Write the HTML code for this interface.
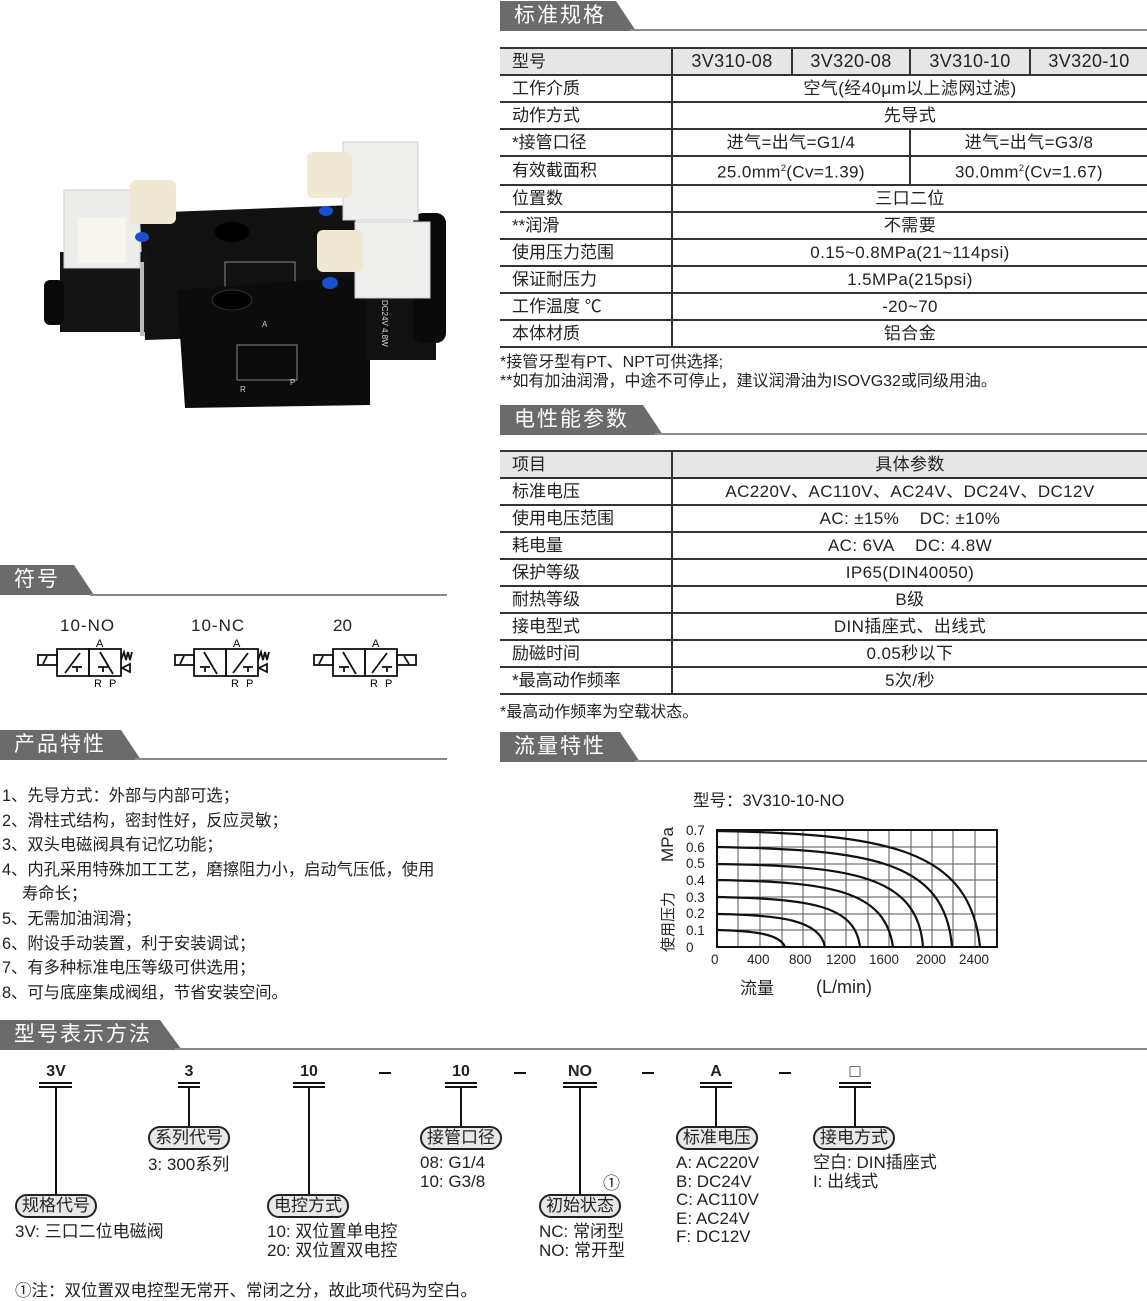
<!DOCTYPE html>
<html><head><meta charset="utf-8">
<style>
*{margin:0;padding:0;box-sizing:border-box}
body{width:1147px;height:1299px;background:#fff;position:relative;overflow:hidden;font-family:"Liberation Sans","Noto Sans CJK SC",sans-serif;color:#222}
.a{position:absolute;white-space:nowrap}
.tab{position:absolute;background:#6b6b6b;color:#fff;font-size:21px;letter-spacing:2px;padding-left:14px;line-height:30px;height:30px}
.hl{position:absolute;height:2px;background:#8a8a8a}
table{position:absolute;border-collapse:collapse;font-size:17px;table-layout:fixed}
td{border-top:2px solid #333;border-bottom:2px solid #333;height:27px;padding:0;text-align:center;line-height:23px;white-space:nowrap;letter-spacing:0.4px}
td.l{text-align:left;padding-left:12px;border-right:2px solid #333;letter-spacing:0}
td.v{border-left:2px solid #333}
tr.h td{background:#e6e6e6}
.fe{position:absolute;left:2px;font-size:16.3px;white-space:nowrap}
.code{position:absolute;font-weight:bold;font-size:16px;text-align:center;width:40px}
.bub{position:absolute;border:2px solid #222;border-radius:12px;background:#e8e8e8;font-size:17px;line-height:20px;padding:0 5px;white-space:nowrap}
.t{position:absolute;font-size:17px;line-height:18.5px;white-space:nowrap}
</style></head><body>

<!-- Photo -->
<svg class="a" style="left:0;top:0" width="470" height="420">
 <polygon points="140,213 355,205 360,333 145,340" fill="#111"/>
 <ellipse cx="232" cy="232" rx="17" ry="10" fill="#000"/>
 <rect x="60" y="252" width="88" height="80" fill="#141414"/>
 <rect x="44" y="280" width="20" height="45" rx="6" fill="#0a0a0a"/>
 <rect x="140" y="262" width="4" height="74" fill="#bbb"/>
 <rect x="225" y="262" width="70" height="28" fill="none" stroke="#888" stroke-width="1"/>
 <rect x="64" y="190" width="76" height="78" fill="#ededeb" stroke="#cfcfcf"/>
 <rect x="78" y="218" width="48" height="45" fill="#f7f5ee"/>
 <rect x="130" y="180" width="46" height="44" rx="6" fill="#efe8d2"/>
 <ellipse cx="142" cy="237" rx="7" ry="5" fill="#1a4fd0"/>
 <polygon points="177,290 340,278 370,282 370,405 185,408" fill="#0c0c0c"/>
 <ellipse cx="232" cy="300" rx="20" ry="10" fill="#000" stroke="#333"/>
 <rect x="237" y="345" width="60" height="35" fill="none" stroke="#888"/>
 <text x="262" y="327" font-size="8" fill="#ccc">A</text>
 <text x="240" y="392" font-size="8" fill="#ccc">R</text>
 <text x="290" y="385" font-size="8" fill="#ccc">P</text>
 <ellipse cx="330" cy="283" rx="8" ry="6" fill="#1a4fd0"/>
 <ellipse cx="326" cy="211" rx="7" ry="5" fill="#1a4fd0"/>
 <rect x="366" y="290" width="70" height="70" fill="#111"/>
 <rect x="413" y="213" width="33" height="130" rx="10" fill="#0a0a0a"/>
 <text x="0" y="0" font-size="8" fill="#ddd" transform="translate(382,300) rotate(90)">DC24V 4.8W</text>
 <rect x="343" y="142" width="75" height="78" fill="#efefed" stroke="#d0d0d0"/>
 <rect x="355" y="222" width="75" height="76" fill="#efefed" stroke="#d0d0d0"/>
 <rect x="307" y="152" width="45" height="46" rx="6" fill="#efe8d2"/>
 <rect x="317" y="230" width="46" height="42" rx="6" fill="#efe8d2"/>
</svg>

<!-- Section headers -->
<div class="tab" style="left:500px;top:1px;width:136px;clip-path:polygon(0 0,116px 0,136px 100%,0 100%)">标准规格</div>
<div class="hl" style="left:630px;top:29px;width:517px"></div>
<div class="tab" style="left:500px;top:405px;width:163px;clip-path:polygon(0 0,143px 0,163px 100%,0 100%)">电性能参数</div>
<div class="hl" style="left:655px;top:433px;width:492px"></div>
<div class="tab" style="left:500px;top:732px;width:140px;clip-path:polygon(0 0,120px 0,140px 100%,0 100%)">流量特性</div>
<div class="hl" style="left:635px;top:760px;width:512px"></div>
<div class="tab" style="left:0;top:565px;width:94px;clip-path:polygon(0 0,74px 0,94px 100%,0 100%)">符号</div>
<div class="hl" style="left:90px;top:594px;width:357px"></div>
<div class="tab" style="left:0;top:730px;width:141px;clip-path:polygon(0 0,121px 0,141px 100%,0 100%)">产品特性</div>
<div class="hl" style="left:135px;top:758px;width:312px"></div>
<div class="tab" style="left:0;top:1020px;width:182px;clip-path:polygon(0 0,160px 0,182px 100%,0 100%)">型号表示方法</div>
<div class="hl" style="left:175px;top:1048px;width:972px"></div>

<!-- Spec table -->
<table style="left:500px;top:47px;width:647px">
<colgroup><col style="width:172px"><col style="width:120px"><col style="width:118px"><col style="width:120px"><col style="width:117px"></colgroup>
<tr class="h"><td class="l">型号</td><td style="font-size:18px">3V310-08</td><td class="v" style="font-size:18px">3V320-08</td><td class="v" style="font-size:18px">3V310-10</td><td class="v" style="font-size:18px">3V320-10</td></tr>
<tr><td class="l">工作介质</td><td colspan="4">空气(经40μm以上滤网过滤)</td></tr>
<tr><td class="l">动作方式</td><td colspan="4">先导式</td></tr>
<tr><td class="l">*接管口径</td><td colspan="2">进气=出气=G1/4</td><td colspan="2" class="v">进气=出气=G3/8</td></tr>
<tr><td class="l">有效截面积</td><td colspan="2">25.0mm<sup style="font-size:9px">2</sup>(Cv=1.39)</td><td colspan="2" class="v">30.0mm<sup style="font-size:9px">2</sup>(Cv=1.67)</td></tr>
<tr><td class="l">位置数</td><td colspan="4">三口二位</td></tr>
<tr><td class="l">**润滑</td><td colspan="4">不需要</td></tr>
<tr><td class="l">使用压力范围</td><td colspan="4">0.15~0.8MPa(21~114psi)</td></tr>
<tr><td class="l">保证耐压力</td><td colspan="4">1.5MPa(215psi)</td></tr>
<tr><td class="l">工作温度 ℃</td><td colspan="4">-20~70</td></tr>
<tr><td class="l">本体材质</td><td colspan="4">铝合金</td></tr>
</table>
<div class="a" style="left:500px;top:348px;font-size:16px">*接管牙型有PT、NPT可供选择;</div>
<div class="a" style="left:500px;top:367px;font-size:16px">**如有加油润滑，中途不可停止，建议润滑油为ISOVG32或同级用油。</div>

<!-- Electrical table -->
<table style="left:500px;top:450px;width:647px">
<colgroup><col style="width:172px"><col style="width:475px"></colgroup>
<tr class="h"><td class="l">项目</td><td>具体参数</td></tr>
<tr><td class="l">标准电压</td><td>AC220V、AC110V、AC24V、DC24V、DC12V</td></tr>
<tr><td class="l">使用电压范围</td><td>AC: ±15%&nbsp;&nbsp;&nbsp; DC: ±10%</td></tr>
<tr><td class="l">耗电量</td><td>AC: 6VA&nbsp;&nbsp;&nbsp; DC: 4.8W</td></tr>
<tr><td class="l">保护等级</td><td>IP65(DIN40050)</td></tr>
<tr><td class="l">耐热等级</td><td>B级</td></tr>
<tr><td class="l">接电型式</td><td>DIN插座式、出线式</td></tr>
<tr><td class="l">励磁时间</td><td>0.05秒以下</td></tr>
<tr><td class="l">*最高动作频率</td><td>5次/秒</td></tr>
</table>
<div class="a" style="left:500px;top:698px;font-size:16px">*最高动作频率为空载状态。</div>

<!-- Symbols -->
<div class="a" style="left:60px;top:616px;font-size:17px;letter-spacing:1px">10-NO</div>
<div class="a" style="left:191px;top:616px;font-size:17px;letter-spacing:1px">10-NC</div>
<div class="a" style="left:333px;top:616px;font-size:17px">20</div>
<svg class="a" style="left:0;top:636px" width="450" height="56" font-family="Liberation Sans" font-size="11">
 <g stroke="#111" stroke-width="1.8" fill="none">
  <rect x="38" y="19" width="19" height="10"/><line x1="43" y1="28" x2="47" y2="20"/>
  <rect x="57" y="13" width="32" height="27"/><rect x="89" y="13" width="32" height="27"/>
  <line x1="65" y1="37" x2="80" y2="17"/><line x1="72" y1="31" x2="82" y2="31"/><line x1="77" y1="31" x2="77" y2="36"/>
  <line x1="98" y1="31" x2="108" y2="31"/><line x1="103" y1="31" x2="103" y2="36"/><line x1="100" y1="16" x2="113" y2="38"/>
  <polyline points="121,24 124,16 126,24 128,16 130,24 132,16"/><polygon points="122,32 130,28 130,36"/>
  <rect x="175" y="19" width="19" height="10"/><line x1="180" y1="28" x2="184" y2="20"/>
  <rect x="194" y="13" width="32" height="27"/><rect x="226" y="13" width="32" height="27"/>
  <line x1="204" y1="16" x2="217" y2="38"/><line x1="200" y1="31" x2="210" y2="31"/><line x1="205" y1="31" x2="205" y2="36"/>
  <line x1="233" y1="37" x2="248" y2="17"/><line x1="243" y1="31" x2="253" y2="31"/><line x1="248" y1="31" x2="248" y2="36"/>
  <polyline points="258,24 261,16 263,24 265,16 267,24 269,16"/><polygon points="259,32 267,28 267,36"/>
  <rect x="314" y="19" width="19" height="10"/><line x1="319" y1="28" x2="323" y2="20"/>
  <rect x="333" y="13" width="32" height="27"/><rect x="365" y="13" width="32" height="27"/>
  <line x1="343" y1="16" x2="356" y2="38"/><line x1="339" y1="31" x2="349" y2="31"/><line x1="344" y1="31" x2="344" y2="36"/>
  <line x1="372" y1="37" x2="387" y2="17"/><line x1="382" y1="31" x2="392" y2="31"/><line x1="387" y1="31" x2="387" y2="36"/>
  <rect x="397" y="19" width="19" height="10"/><line x1="404" y1="20" x2="409" y2="28"/>
 </g>
 <text x="96" y="11">A</text><text x="94" y="51">R</text><text x="109" y="51">P</text>
 <text x="233" y="11">A</text><text x="231" y="51">R</text><text x="246" y="51">P</text>
 <text x="372" y="11">A</text><text x="370" y="51">R</text><text x="385" y="51">P</text>
</svg>

<!-- Features -->
<div class="fe" style="top:782px">1、先导方式：外部与内部可选；</div>
<div class="fe" style="top:807px">2、滑柱式结构，密封性好，反应灵敏；</div>
<div class="fe" style="top:831px">3、双头电磁阀具有记忆功能；</div>
<div class="fe" style="top:856px">4、内孔采用特殊加工工艺，磨擦阻力小，启动气压低，使用</div>
<div class="fe" style="top:880px;left:22px">寿命长；</div>
<div class="fe" style="top:905px">5、无需加油润滑；</div>
<div class="fe" style="top:930px">6、附设手动装置，利于安装调试；</div>
<div class="fe" style="top:954px">7、有多种标准电压等级可供选用；</div>
<div class="fe" style="top:979px">8、可与底座集成阀组，节省安装空间。</div>

<!-- Flow chart -->
<div class="a" style="left:693px;top:787px;font-size:16.5px">型号：3V310-10-NO</div>
<svg class="a" style="left:640px;top:810px" width="380" height="200" font-family="Liberation Sans" font-size="13.5">
 <g stroke="#555" stroke-width="1">
  <line x1="77" y1="37" x2="357" y2="37"/><line x1="77" y1="54" x2="357" y2="54"/><line x1="77" y1="70" x2="357" y2="70"/>
  <line x1="77" y1="87" x2="357" y2="87"/><line x1="77" y1="104" x2="357" y2="104"/><line x1="77" y1="120" x2="357" y2="120"/>
  <line x1="98" y1="20" x2="98" y2="137"/><line x1="120" y1="20" x2="120" y2="137"/><line x1="142" y1="20" x2="142" y2="137"/>
  <line x1="163" y1="20" x2="163" y2="137"/><line x1="185" y1="20" x2="185" y2="137"/><line x1="206" y1="20" x2="206" y2="137"/>
  <line x1="228" y1="20" x2="228" y2="137"/><line x1="249" y1="20" x2="249" y2="137"/><line x1="271" y1="20" x2="271" y2="137"/>
  <line x1="292" y1="20" x2="292" y2="137"/><line x1="313" y1="20" x2="313" y2="137"/><line x1="335" y1="20" x2="335" y2="137"/>
 </g>
 <rect x="77" y="20" width="280" height="117" fill="none" stroke="#111" stroke-width="2"/>
 <g stroke="#111" stroke-width="2.2" fill="none">
  <path d="M77,120 C115,121 140,124 145,137"/>
  <path d="M77,104 C140,105 180,110 185,137"/>
  <path d="M77,87 C170,89 215,95 220,137"/>
  <path d="M77,70 C190,72 245,80 253,137"/>
  <path d="M77,54 C210,56 278,65 283,137"/>
  <path d="M77,37 C230,40 305,50 312,137"/>
  <path d="M77,21 C250,24 330,40 340,137"/>
 </g>
 <g fill="#222">
  <text x="46" y="25">0.7</text><text x="46" y="42">0.6</text><text x="46" y="58">0.5</text><text x="46" y="75">0.4</text>
  <text x="46" y="92">0.3</text><text x="46" y="108">0.2</text><text x="46" y="125">0.1</text><text x="46" y="142">0</text>
  <text x="71" y="154">0</text><text x="107" y="154">400</text><text x="149" y="154">800</text><text x="186" y="154">1200</text>
  <text x="229" y="154">1600</text><text x="276" y="154">2000</text><text x="319" y="154">2400</text>
  <text x="0" y="0" font-size="17" transform="translate(33,52) rotate(-90)">MPa</text>
  <text x="0" y="0" font-size="15" font-family="Liberation Sans,Noto Sans CJK SC" transform="translate(33,142) rotate(-90)">使用压力</text>
  <text x="100" y="184" font-size="17" font-family="Liberation Sans,Noto Sans CJK SC">流量</text>
  <text x="176" y="183" font-size="18">(L/min)</text>
 </g>
</svg>

<!-- Model code -->
<svg class="a" style="left:0;top:1060px" width="1147" height="150" stroke="#111" stroke-width="2" fill="none">
 <g>
  <line x1="39" y1="23" x2="72" y2="23"/><line x1="39" y1="27" x2="72" y2="27"/><line x1="56" y1="27" x2="56" y2="135"/>
  <line x1="178" y1="23" x2="200" y2="23"/><line x1="178" y1="27" x2="200" y2="27"/><line x1="189" y1="27" x2="189" y2="66"/>
  <line x1="293" y1="23" x2="325" y2="23"/><line x1="293" y1="27" x2="325" y2="27"/><line x1="309" y1="27" x2="309" y2="135"/>
  <line x1="445" y1="23" x2="477" y2="23"/><line x1="445" y1="27" x2="477" y2="27"/><line x1="461" y1="27" x2="461" y2="66"/>
  <line x1="563" y1="23" x2="597" y2="23"/><line x1="563" y1="27" x2="597" y2="27"/><line x1="580" y1="27" x2="580" y2="135"/>
  <line x1="700" y1="23" x2="732" y2="23"/><line x1="700" y1="27" x2="732" y2="27"/><line x1="716" y1="27" x2="716" y2="66"/>
  <line x1="839" y1="23" x2="871" y2="23"/><line x1="839" y1="27" x2="871" y2="27"/><line x1="855" y1="27" x2="855" y2="66"/>
  <line x1="379" y1="13" x2="391" y2="13"/><line x1="514" y1="13" x2="526" y2="13"/><line x1="642" y1="13" x2="654" y2="13"/><line x1="779" y1="13" x2="791" y2="13"/>
 </g>
</svg>
<div class="code" style="left:36px;top:1063px">3V</div>
<div class="code" style="left:169px;top:1063px">3</div>
<div class="code" style="left:289px;top:1063px">10</div>
<div class="code" style="left:441px;top:1063px">10</div>
<div class="code" style="left:560px;top:1063px">NO</div>
<div class="code" style="left:696px;top:1063px">A</div>
<div class="code" style="left:835px;top:1061px;font-weight:normal;font-size:18px">□</div>

<div class="bub" style="left:148px;top:1126px">系列代号</div>
<div class="t" style="left:148px;top:1156px">3: 300系列</div>
<div class="bub" style="left:420px;top:1126px">接管口径</div>
<div class="t" style="left:420px;top:1154px">08: G1/4<br>10: G3/8</div>
<div class="bub" style="left:676px;top:1126px">标准电压</div>
<div class="t" style="left:676px;top:1154px">A: AC220V<br>B: DC24V<br>C: AC110V<br>E: AC24V<br>F: DC12V</div>
<div class="bub" style="left:813px;top:1126px">接电方式</div>
<div class="t" style="left:813px;top:1154px">空白: DIN插座式<br>I: 出线式</div>

<div class="bub" style="left:15px;top:1194px">规格代号</div>
<div class="t" style="left:15px;top:1223px">3V: 三口二位电磁阀</div>
<div class="bub" style="left:267px;top:1194px">电控方式</div>
<div class="t" style="left:267px;top:1223px">10: 双位置单电控<br>20: 双位置双电控</div>
<div class="bub" style="left:539px;top:1194px">初始状态</div>
<div class="t" style="left:603px;top:1175px">①</div>
<div class="t" style="left:539px;top:1223px">NC: 常闭型<br>NO: 常开型</div>

<div class="t" style="left:15px;top:1282px;font-size:16.5px">①注：双位置双电控型无常开、常闭之分，故此项代码为空白。</div>
</body></html>
